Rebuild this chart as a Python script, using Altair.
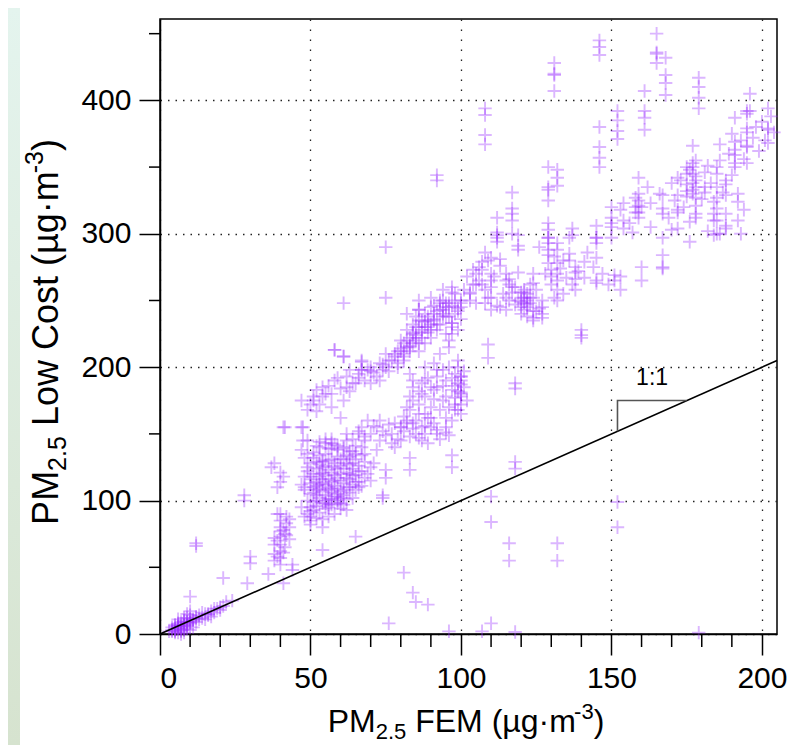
import altair as alt
import pandas as pd

# ---------------- data ----------------
# cluster near the origin
origin_fem = [3, 4, 4, 5, 5, 5, 6, 6, 6, 6, 7, 7, 7, 7, 8, 8, 8, 8, 9, 9, 9, 9, 10, 10, 10, 11, 11, 12, 12, 13,
              5, 6, 7, 8, 9, 10, 14, 15, 15, 16, 17, 17, 18, 19, 20, 21, 22, 24, 10,
              4, 5, 6, 7, 8, 9, 10, 11, 5, 6, 7, 8, 9, 10, 12, 13, 14, 16, 18, 20]
origin_lc = [2, 2, 5, 1, 3, 6, 1, 4, 8, 11, 0, 2, 5, 9, 1, 3, 6, 10, 4, 7, 12, 15, 3, 8, 14, 5, 10, 9, 12, 11,
             7, 6, 3, 12, 9, 17, 12, 11, 15, 14, 13, 17, 16, 19, 18, 21, 24, 25, 28,
             3, 4, 5, 6, 7, 8, 9, 11, 2, 7, 4, 9, 6, 11, 13, 14, 16, 15, 19, 20]

# low scatter between 10 and 55 FEM
low_fem = [12, 12, 21, 30, 30, 29, 28, 28, 38, 40, 40, 41, 37, 39, 41.5, 47.5, 47.5, 48, 40, 40, 40, 40, 40, 40,
           40, 38, 38, 38, 41.5, 41.5, 43, 43, 44, 41, 54, 54, 65, 50, 50, 50, 52, 49, 39, 42, 44, 36,
           39, 40, 41, 42, 43, 39, 41, 42, 40, 38]
low_lc = [68, 66, 42, 58, 53, 38, 100, 104, 128, 121, 114, 118, 125, 110, 155, 155, 145, 108, 85, 80, 77, 67, 62, 57,
          52, 67, 60, 55, 75, 65, 80, 71, 52, 38, 80, 63, 73, 95, 88, 82, 100, 90, 90, 88, 48, 45,
          70, 73, 78, 83, 86, 58, 61, 74, 90, 72]

# dense core around 50-70 FEM
core_fem = [47, 47, 47, 48, 48, 48, 49, 49, 49, 50, 50, 50, 50, 51, 51, 51, 51, 52, 52, 52, 52, 52, 53, 53, 53, 53, 53,
            54, 54, 54, 54, 54, 55, 55, 55, 55, 55, 56, 56, 56, 56, 56, 57, 57, 57, 57, 57, 58, 58, 58, 58, 59, 59, 59,
            59, 60, 60, 60, 60, 61, 61, 61, 62, 62, 62, 63, 63, 63, 64, 64, 64, 65, 65, 65, 66, 66, 67, 67, 68, 68, 69,
            70, 57, 55, 53, 59, 61, 63, 65, 58, 56, 54, 52, 50, 60, 62, 66, 68, 71, 75, 75, 74, 74, 83, 83, 70, 72, 78,
            48, 49, 50, 51, 52, 53, 54, 55, 56, 57, 58, 59, 60, 61, 62, 63, 64, 65, 66, 67, 49, 51, 53, 55, 57, 59, 61,
            63, 65, 67, 50, 52, 54, 56, 58, 60, 62, 64, 66, 68, 51, 53, 55, 57, 59, 61, 63, 52, 54, 56, 58, 60, 62, 64,
            55, 57, 59, 61, 53, 56, 59, 62]
core_lc = [95, 112, 138, 88, 118, 132, 100, 122, 145, 92, 105, 116, 128, 99, 110, 120, 136, 96, 104, 114, 124, 141, 102,
           109, 118, 127, 134, 98, 107, 113, 121, 130, 94, 104, 112, 119, 126, 101, 108, 116, 123, 139, 97, 106, 114,
           121, 131, 103, 111, 119, 128, 100, 109, 117, 133, 98, 107, 115, 126, 104, 113, 131, 101, 110, 121, 106, 116,
           127, 102, 112, 124, 108, 119, 131, 114, 126, 111, 122, 117, 129, 120, 125, 143, 146, 144, 141, 139, 137, 135,
           90, 88, 86, 87, 85, 94, 93, 110, 135, 128, 123, 117, 104, 102, 132, 123, 115, 138, 140,
           110, 125, 118, 132, 108, 140, 125, 135, 130, 146, 142, 138, 120, 124, 128, 133, 137, 141, 150, 140, 135, 106,
           112, 100, 101, 124, 97, 110, 114, 134, 113, 129, 116, 110, 115, 131, 117, 128, 122, 145, 93, 120, 98, 109,
           105, 140, 120, 111, 129, 97, 125, 102, 134, 119, 143, 139, 103, 108, 91, 95, 98, 145]

# band along 145-160
band_fem = [62, 64, 66, 67, 68, 70, 71, 72, 73, 74, 75, 76, 77, 78, 79, 80, 81, 82, 83, 84, 85, 86, 87, 88, 89, 90, 92,
            93, 95, 96, 69, 73, 77, 80, 84, 88]
band_lc = [150, 146, 152, 155, 148, 150, 156, 155, 145, 152, 149, 157, 150, 158, 146, 155, 152, 158, 148, 154, 150, 147,
           145, 150, 143, 155, 153, 146, 151, 149, 160, 160, 143, 145, 158, 156]

# upper branch of the loop
upper_fem = [47, 50, 51, 52, 52, 54, 57, 58, 61, 62, 65, 67, 67, 70, 72, 73, 75, 76, 77, 79, 81, 82, 83, 84, 85, 86, 87,
             89, 90, 91, 93, 95, 96, 97, 86, 84, 80, 78, 74, 70, 66, 63, 57, 61, 47, 41, 60,
             49, 51, 53, 55, 56, 58, 60, 62, 64, 66, 68, 69, 71, 73, 74, 76, 78, 79, 80, 81, 83, 85, 86, 88, 89, 91,
             92, 94, 95, 97, 99, 100, 54, 59, 63, 70, 75, 82, 87, 93]
upper_lc = [175, 172, 175, 183, 167, 178, 180, 213, 208, 185, 188, 204, 198, 188, 193, 190, 200, 197, 205, 203, 208,
            215, 212, 225, 222, 230, 228, 235, 232, 240, 243, 245, 248, 233, 243, 218, 214, 210, 202, 197, 192, 182,
            170, 175, 155, 155, 162,
            168, 178, 172, 180, 186, 190, 184, 193, 188, 195, 190, 198, 196, 203, 198, 205, 208, 200, 212, 205, 216,
            224, 218, 230, 226, 236, 232, 240, 238, 246, 244, 250, 185, 192, 198, 200, 210, 220, 235, 248]

# right branch of the loop
right_fem = [83, 84, 84, 83, 82, 80, 87, 88, 90, 91, 92, 94, 95, 97, 97, 98, 98, 98, 99, 99, 100, 100, 100, 100, 92, 95,
             88, 93, 96, 99, 101, 102, 89, 86, 91, 96,
             85, 86, 87, 88, 89, 90, 91, 92, 93, 94, 95, 96, 97, 98, 99, 100, 101, 86, 88, 90, 92, 94, 96, 98, 100,
             84, 83, 82, 81, 87, 91, 95, 99]
right_lc = [195, 185, 175, 168, 160, 155, 188, 200, 170, 183, 193, 175, 190, 183, 160, 168, 177, 195, 188, 205, 165,
            172, 180, 193, 150, 155, 178, 210, 215, 200, 185, 175, 162, 165, 203, 220,
            160, 172, 180, 165, 192, 185, 176, 198, 168, 186, 178, 200, 192, 172, 182, 190, 197, 182, 190, 162, 185,
            198, 170, 186, 178, 190, 178, 170, 163, 155, 158, 162, 168]

# rising band 80-100 FEM
rise_fem = [80, 81, 82, 83, 84, 85, 85, 86, 87, 88, 88, 89, 90, 90, 91, 92, 93, 94, 95, 96, 97, 98, 99, 100, 82, 86, 90,
            94, 98, 79, 81, 83, 84, 86, 87, 89, 90, 92, 93, 95, 96, 98, 99, 100, 85, 88, 91, 94, 97]
rise_lc = [220, 210, 228, 215, 232, 220, 238, 212, 226, 240, 218, 230, 222, 245, 235, 228, 250, 238, 225, 245, 230, 240,
           228, 236, 240, 250, 252, 258, 250, 212, 218, 222, 226, 235, 222, 238, 228, 242, 232, 248, 238, 255, 242,
           248, 230, 234, 246, 250, 260]

# cluster 100-155 FEM
mid_fem = [101, 102, 103, 104, 105, 105, 106, 107, 107, 107, 110, 110, 110, 110, 110, 110, 112, 112, 115, 115, 115, 115,
           116, 116, 117, 119, 119, 119, 120, 120, 121, 121, 122, 122, 124, 124, 124, 124, 124, 127, 127, 127, 129, 129,
           129, 129, 130, 130, 132, 132, 132, 132, 132, 132, 132, 136, 136, 138, 138, 138, 138, 141, 141, 145, 145, 145,
           145, 145, 151, 151, 153, 153, 100, 103, 108, 113, 125, 118,
           104, 106, 108, 109, 111, 113, 114, 116, 118, 119, 120, 121, 121, 122, 123, 123, 125, 126, 128, 130, 131,
           133, 134, 135, 137, 139, 142, 144, 147, 149, 105, 109, 112, 117, 120, 122, 124, 127, 131, 134, 119, 121,
           123, 120, 122, 108, 113, 126, 129, 136]
mid_lc = [258, 268, 255, 273, 262, 270, 265, 279, 273, 262, 282, 270, 265, 260, 252, 243, 299, 294, 270, 265, 252, 243,
          262, 250, 256, 299, 291, 288, 245, 252, 248, 258, 250, 255, 270, 263, 252, 237, 235, 250, 245, 237, 297, 293,
          284, 278, 273, 268, 293, 288, 278, 270, 265, 258, 250, 297, 285, 275, 271, 266, 258, 279, 267, 297, 293, 282,
          265, 263, 269, 265, 268, 258, 245, 250, 248, 245, 242, 247,
          262, 275, 258, 280, 268, 276, 255, 266, 260, 271, 249, 243, 256, 247, 252, 262, 258, 244, 270, 262, 283,
          274, 280, 267, 262, 272, 286, 275, 270, 262, 248, 252, 246, 260, 240, 238, 242, 240, 252, 255, 250, 252,
          248, 256, 245, 286, 281, 290, 288, 280]

# high values 105-205 FEM
high_fem = [146, 146, 146, 131, 131, 131, 131, 165, 165, 165, 165, 168, 168, 168, 168, 179, 179, 179, 179, 161, 161, 161,
            161, 108, 108, 108, 108, 152, 152, 152, 152, 146, 146, 146, 146, 129, 129, 129, 129, 132, 132, 132, 117,
            117, 117, 117, 117, 112, 112, 112, 196, 196, 202, 202, 202, 202, 191, 191, 191, 191, 191, 191, 195, 195,
            195, 195, 195, 195, 195, 177, 177, 177, 177, 177, 177, 177, 175, 175, 175, 175, 175, 178, 178, 178, 178,
            178, 178, 178, 181, 181, 181, 185, 185, 185, 185, 185, 185, 185, 188, 188, 188, 188, 188, 192, 192, 192,
            172, 172, 172, 172, 172, 167, 167, 167, 159, 159, 159, 159, 159, 159, 158, 158, 154, 154, 154, 150, 150,
            150, 150, 184, 184, 184, 184, 137, 137, 145, 145, 129, 129, 129,
            150, 153, 156, 158, 160, 162, 163, 166, 169, 170, 171, 173, 174, 176, 178, 180, 182, 183, 186, 187, 189,
            190, 193, 194, 197, 198, 200, 201, 203, 204, 157, 163, 170, 176, 182, 188, 194, 199, 186, 190]
high_lc = [445, 440, 434, 428, 420, 419, 407, 450, 436, 435, 428, 432, 419, 413, 404, 417, 410, 402, 394, 407, 392, 387,
           378, 394, 389, 374, 367, 392, 385, 377, 371, 380, 365, 357, 350, 350, 335, 333, 325, 348, 342, 336, 331,
           319, 315, 310, 300, 312, 301, 297, 405, 392, 394, 379, 378, 368, 387, 369, 363, 359, 353, 350, 392, 390,
           379, 376, 366, 365, 353, 366, 353, 350, 345, 338, 333, 330, 350, 345, 337, 332, 328, 355, 340, 335, 327,
           321, 315, 312, 346, 335, 331, 350, 345, 335, 327, 319, 310, 300, 340, 337, 329, 315, 304, 330, 324, 310,
           342, 329, 318, 316, 304, 329, 319, 315, 342, 330, 325, 321, 316, 312, 320, 316, 323, 310, 304, 320, 308,
           305, 297, 324, 315, 310, 299, 304, 299, 306, 297, 308, 303, 297,
           312, 318, 308, 327, 320, 335, 323, 330, 312, 338, 325, 340, 320, 348, 343, 326, 351, 338, 355, 331, 360,
           344, 370, 356, 372, 380, 384, 370, 388, 376, 301, 305, 303, 309, 302, 306, 318, 362, 367, 375]

# isolated readings
iso_fem = [97, 97, 118, 118, 110, 110, 116, 116, 132, 132, 152, 152, 81, 84, 85, 89, 76, 96, 107, 110, 118, 179, 109,
           109, 118, 118, 100, 100, 100, 140, 140, 140, 75, 75, 61, 58, 61, 67, 67, 86, 94, 97, 97, 97, 103, 160, 160,
           167, 167, 167, 167, 176, 186, 193, 92, 92]
iso_lc = [134, 125, 129, 124, 103, 84, 68, 55, 68, 55, 99, 80, 46, 31, 24, 22, 8, 2, 2, 8, 1.5, 1, 217, 207, 188, 184,
          193, 187, 181, 228, 224, 222, 290, 252, 248, 213, 208, 205, 198, 243, 243, 256, 233, 225, 256, 275, 265, 284,
          275, 274, 297, 294, 300, 300, 344, 340]

x_major = [0, 50, 100, 150, 200]
x_minor = [10, 20, 30, 40, 60, 70, 80, 90, 110, 120, 130, 140, 160, 170, 180, 190]
y_major = [0, 100, 200, 300, 400]
y_minor = [50, 150, 250, 350, 450]

one_to_one = [0, 205]
slope_x = [152, 152, 175]
slope_y = [152, 175, 175]
slope_label = "1:1"

# ---------------- build ----------------
fem = (origin_fem + low_fem + core_fem + band_fem + upper_fem + right_fem + rise_fem + mid_fem + high_fem + iso_fem)
lc = (origin_lc + low_lc + core_lc + band_lc + upper_lc + right_lc + rise_lc + mid_lc + high_lc + iso_lc)
df = pd.DataFrame({"fem": fem, "lc": lc})

W, H = 617, 615
FONT = "Liberation Sans"
xs = alt.Scale(domain=[0, 205], nice=False, zero=False)
ys = alt.Scale(domain=[0, 461], nice=False, zero=False)

x_axis = alt.Axis(values=x_major, tickSize=21, tickWidth=1.5, tickColor="black", domainColor="black",
                  domainWidth=1.5, labelFontSize=30, labelFont=FONT, labelColor="black", labelPadding=8,
                  grid=True, gridDash=[1.5, 8.5], gridColor="#222222", gridWidth=1.3, title=None, format="d")
y_axis = alt.Axis(values=y_major, tickSize=21, tickWidth=1.5, tickColor="black", domainColor="black",
                  domainWidth=1.5, labelFontSize=30, labelFont=FONT, labelColor="black", labelPadding=8,
                  grid=True, gridDash=[1.5, 6], gridColor="#222222", gridWidth=1.3, title=None, format="d")

cross = "M-1,0L1,0M0,-1L0,1"
points = alt.Chart(df).mark_point(shape=cross, size=180, filled=False, strokeWidth=1.9,
                                  color="#9B30FF", opacity=0.35).encode(
    x=alt.X("fem:Q", scale=xs, axis=x_axis),
    y=alt.Y("lc:Q", scale=ys, axis=y_axis),
)

line_df = pd.DataFrame({"fem": one_to_one, "lc": one_to_one})
line = alt.Chart(line_df).mark_line(color="black", strokeWidth=1.6).encode(
    x=alt.X("fem:Q", scale=xs, axis=x_axis), y=alt.Y("lc:Q", scale=ys, axis=y_axis))

tri_df = pd.DataFrame({"fem": slope_x, "lc": slope_y, "o": [0, 1, 2]})
tri = alt.Chart(tri_df).mark_line(color="#555555", strokeWidth=1.6).encode(
    x=alt.X("fem:Q", scale=xs, axis=x_axis), y=alt.Y("lc:Q", scale=ys, axis=y_axis), order="o:Q")

lab_df = pd.DataFrame({"fem": [163.5], "lc": [186.5], "t": [slope_label]})
lab = alt.Chart(lab_df).mark_text(fontSize=23, font=FONT, color="black", baseline="alphabetic",
                                  align="center").encode(
    x=alt.X("fem:Q", scale=xs, axis=x_axis), y=alt.Y("lc:Q", scale=ys, axis=y_axis), text="t:N")

xminor_df = pd.DataFrame({"fem": x_minor})
xminor = alt.Chart(xminor_df).mark_rule(color="black", strokeWidth=1.5).encode(
    x=alt.X("fem:Q", scale=xs, axis=x_axis), y=alt.value(H), y2=alt.value(H + 13))
yminor_df = pd.DataFrame({"lc": y_minor})
yminor = alt.Chart(yminor_df).mark_rule(color="black", strokeWidth=1.5).encode(
    y=alt.Y("lc:Q", scale=ys, axis=y_axis), x=alt.value(0), x2=alt.value(-11))

# ---- axis titles with sub/superscripts ----
ARIAL = {"P": 667, "M": 833, "2": 556, ".": 278, "5": 556, " ": 278, "F": 611, "E": 667, "(": 333, "µ": 576,
         "g": 556, "·": 278, "m": 833, "-": 333, "3": 556, ")": 333, "L": 556, "o": 556, "w": 722, "C": 722,
         "s": 500, "t": 278}


def seg_width(s, size):
    return sum(ARIAL[c] for c in s) / 1000 * size


def title_layers(segments, center, base, vertical, big, small, sub_shift, sup_shift):
    sizes = [(t, big if k == "n" else small, k) for t, k in segments]
    total = sum(seg_width(t, s) for t, s, _ in sizes)
    pos = center - total / 2 if not vertical else center + total / 2
    layers = []
    one = pd.DataFrame({"t": [0]})
    for t, s, k in sizes:
        shift = 0 if k == "n" else (sub_shift if k == "sub" else sup_shift)
        lead = len(t) - len(t.lstrip(" "))
        lead_w = seg_width(" " * lead, s)
        txt = t.lstrip(" ")
        if not vertical:
            enc = dict(x=alt.value(pos + lead_w), y=alt.value(base + shift))
            mk = alt.Chart(one).mark_text(text=txt, fontSize=s, font=FONT, color="black", align="left",
                                          baseline="alphabetic")
            pos += seg_width(t, s)
        else:
            enc = dict(x=alt.value(base + shift), y=alt.value(pos - lead_w))
            mk = alt.Chart(one).mark_text(text=txt, fontSize=s, font=FONT, color="black", align="left",
                                          baseline="alphabetic", angle=270)
            pos -= seg_width(t, s)
        layers.append(mk.encode(**enc))
    return layers


x_title = title_layers([("PM", "n"), ("2.5", "sub"), (" FEM (µg·m", "n"), ("-3", "sup"), (")", "n")],
                       center=306, base=713, vertical=False, big=32, small=22, sub_shift=7, sup_shift=-13)
y_title = title_layers([("PM", "n"), ("2.5", "sub"), (" Low Cost (µg·m", "n"), ("-3", "sup"), (")", "n")],
                       center=313, base=-102, vertical=True, big=36, small=25, sub_shift=8, sup_shift=-15)

strip = alt.Chart(pd.DataFrame({"t": [0]})).mark_rect(
    color=alt.LinearGradient(gradient="linear", x1=0, x2=0, y1=0, y2=1,
                             stops=[alt.GradientStop(color="#e4f4ee", offset=0),
                                    alt.GradientStop(color="#d6e3cf", offset=1)])).encode(
    x=alt.value(-152), x2=alt.value(-140), y=alt.value(-11), y2=alt.value(726))

chart = alt.layer(strip, points, line, tri, lab, xminor, yminor, *x_title, *y_title).properties(
    width=W, height=H, autosize=alt.AutoSizeParams(type="none"),
    padding={"left": 152, "top": 11, "right": 24, "bottom": 111},
).configure_view(stroke="black", strokeWidth=1.5)

chart.save("out.html", embed_options={"renderer": "svg", "actions": False})
